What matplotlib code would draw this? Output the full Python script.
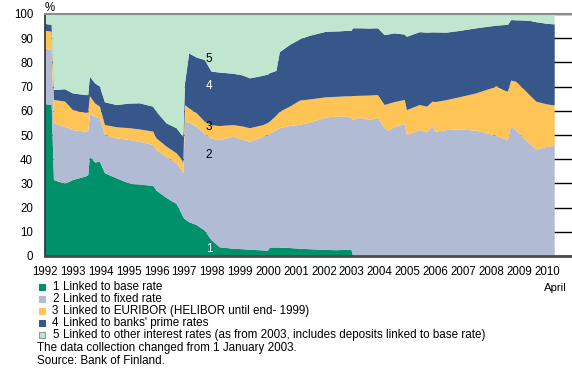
import matplotlib

matplotlib.use("Agg")
import matplotlib.pyplot as plt
from matplotlib.patches import Rectangle

plt.rcParams["font.family"] = ["Liberation Sans", "DejaVu Sans"]

# month positions as decimal years, Jan 1992 .. April 2010
dates = [
    1992.00, 1992.24, 1992.32, 1992.72, 1993.00, 1993.45, 1993.55, 1993.61,
    1993.80, 1993.97, 1994.15, 1994.57, 1995.05, 1995.40, 1995.88, 1996.00,
    1996.36, 1996.72, 1996.90, 1996.96, 1997.02, 1997.17, 1997.44, 1997.73,
    1997.97, 1998.27, 1998.75, 1999.10, 1999.35, 1999.83, 2000.00, 2000.06,
    2000.30, 2000.42, 2000.78, 2001.14, 2001.50, 2002.10, 2002.50, 2002.80,
    2002.99, 2003.05, 2003.29, 2003.65, 2003.94, 2004.18, 2004.30, 2004.54,
    2004.90, 2004.98, 2005.44, 2005.70, 2005.90, 2006.00, 2006.40, 2006.87,
    2007.47, 2008.07, 2008.19, 2008.43, 2008.60, 2008.72, 2008.90, 2009.14,
    2009.38, 2009.62, 2009.98, 2010.28,
]
# shares of deposits, %
base_rate = [
    62.8, 62.4, 31.4, 29.8, 31.4, 32.8, 33.4, 41.0,
    38.6, 39.0, 34.2, 32.1, 29.8, 29.5, 29.0, 27.0,
    24.0, 21.5, 17.5, 16.0, 15.2, 14.0, 12.8, 10.5,
    6.6, 3.6, 3.0, 2.8, 2.6, 2.3, 2.2, 3.5,
    3.5, 3.5, 3.3, 3.0, 2.8, 2.5, 2.4, 2.6,
    2.5, 0, 0, 0, 0, 0, 0, 0,
    0, 0, 0, 0, 0, 0, 0, 0,
    0, 0, 0, 0, 0, 0, 0, 0,
    0, 0, 0, 0,
]
fixed_rate = [
    23.0, 22.7, 23.4, 23.6, 20.6, 18.6, 18.1, 17.7,
    18.9, 17.9, 15.8, 16.5, 18.1, 17.7, 16.9, 16.8,
    17.0, 16.8, 18.0, 18.2, 40.3, 41.0, 40.6, 40.0,
    41.9, 44.3, 46.3, 45.2, 44.6, 47.0, 47.8, 47.0,
    48.5, 49.3, 50.4, 51.2, 52.3, 54.8, 55.2, 55.0,
    54.5, 56.2, 57.2, 56.2, 57.0, 52.8, 51.8, 53.3,
    54.5, 50.0, 52.0, 51.1, 53.7, 51.4, 52.0, 52.3,
    51.8, 50.0, 49.5, 48.6, 47.9, 53.7, 52.0, 49.0,
    46.5, 44.0, 45.0, 45.6,
]
euribor = [
    7.3, 7.6, 9.7, 10.4, 8.3, 7.8, 7.8, 7.4,
    5.5, 4.8, 4.1, 4.6, 4.9, 5.1, 5.5, 4.8,
    4.2, 4.1, 4.5, 4.3, 6.9, 6.0, 5.6, 5.0,
    5.5, 5.8, 4.8, 5.5, 5.6, 4.8, 5.0, 5.0,
    6.0, 6.8, 8.0, 10.0, 9.6, 8.3, 8.2, 8.4,
    9.0, 9.9, 9.0, 10.1, 9.5, 9.6, 11.0, 10.3,
    10.0, 10.3, 10.4, 10.6, 10.1, 12.2, 12.4, 13.3,
    15.4, 19.5, 20.7, 20.0, 20.0, 18.8, 20.0, 20.3,
    20.0, 19.8, 17.7, 16.6,
]
prime_rate = [
    2.8, 2.8, 4.1, 5.1, 6.9, 7.3, 7.2, 8.0,
    8.3, 8.3, 9.4, 9.2, 10.2, 10.8, 10.3, 11.0,
    9.6, 10.4, 10.0, 10.8, 8.9, 22.7, 23.0, 25.5,
    22.2, 22.1, 21.2, 21.1, 20.6, 20.4, 20.0, 20.0,
    18.5, 24.6, 25.5, 25.3, 26.3, 27.1, 27.0, 27.0,
    27.0, 28.0, 27.9, 27.7, 27.6, 28.9, 28.7, 28.4,
    27.0, 30.3, 30.1, 30.6, 28.6, 28.8, 27.9, 27.4,
    26.9, 25.5, 25.0, 26.8, 27.6, 25.0, 25.4, 28.0,
    30.7, 32.8, 33.3, 33.5,
]
other_rates = [
    4.1, 4.5, 31.4, 31.1, 32.8, 33.5, 33.5, 25.9,
    28.7, 30.0, 36.5, 37.6, 37.0, 36.9, 38.3, 40.4,
    45.2, 47.2, 50.0, 50.7, 28.7, 16.3, 18.0, 19.0,
    23.8, 24.2, 24.7, 25.4, 26.6, 25.5, 25.0, 24.5,
    23.5, 15.8, 12.8, 10.5, 9.0, 7.3, 7.2, 7.0,
    7.0, 5.9, 5.9, 6.0, 5.9, 8.7, 8.5, 8.0,
    8.5, 9.4, 7.5, 7.7, 7.6, 7.6, 7.7, 7.0,
    5.9, 5.0, 4.8, 4.6, 4.5, 2.5, 2.6, 2.7,
    2.8, 3.4, 4.0, 4.3,
]

years = list(range(1992, 2011))
y_ticks = list(range(0, 101, 10))
legend_numbers = ["1", "2", "3", "4", "5"]
legend_labels = [
    "Linked to base rate",
    "Linked to fixed rate",
    "Linked to EURIBOR (HELIBOR until end- 1999)",
    "Linked to banks' prime rates",
    "Linked to other interest rates (as from 2003, includes deposits linked to base rate)",
]
colors = ["#00906a", "#b1bbd4", "#fec456", "#37578a", "#c1e6cf"]

W, H = 572, 370
fig = plt.figure(figsize=(W / 100, H / 100), dpi=100)
ax = fig.add_axes([45 / W, 1 - 256 / H, 527 / W, 242 / H])

ax.stackplot(dates, base_rate, fixed_rate, euribor, prime_rate, other_rates,
             colors=colors, linewidth=0, zorder=2)
ax.set_xlim(1992, 2010.9)
ax.set_ylim(0, 100)
ax.set_yticks(y_ticks)
ax.set_xticks(years)
ax.set_xticklabels([str(y) for y in years])
ax.yaxis.grid(True, color="black", lw=1, zorder=1)
ax.set_axisbelow(True)
ax.tick_params(axis="both", length=0, labelsize=8.3, colors="black")
ax.tick_params(axis="x", pad=7.5)
ax.tick_params(axis="y", pad=8.5)

ax.spines["right"].set_visible(False)
ax.spines["top"].set_color("#8c8c8c")
ax.spines["top"].set_linewidth(1.5)
ax.spines["left"].set_color("#3a3a3a")
ax.spines["left"].set_linewidth(1.3)
ax.spines["bottom"].set_color("#4a4a4a")
ax.spines["bottom"].set_linewidth(2)
for s in ax.spines.values():
    s.set_zorder(5)

# numbers inside the areas
ax.text(1997.88, 81.4, "5", color="black", fontsize=8.5, ha="center", va="center", zorder=6)
ax.text(1997.88, 70.2, "4", color="white", fontsize=8.5, ha="center", va="center", zorder=6)
ax.text(1997.88, 53.4, "3", color="black", fontsize=8.5, ha="center", va="center", zorder=6)
ax.text(1997.88, 41.7, "2", color="black", fontsize=8.5, ha="center", va="center", zorder=6)
ax.text(1997.88, 2.9, "1", color="white", fontsize=8.5, ha="center", va="center", zorder=6)

fig.text(45 / W, 1 - 8 / H, "%", fontsize=8.3, ha="left", va="center")
fig.text(567 / W, 1 - 288 / H, "April", fontsize=8.2, ha="right", va="center")

# legend drawn by hand
LEG_FS = 8.4
rows_y = [287, 299, 311, 323, 335]
for i, (num, lab) in enumerate(zip(legend_numbers, legend_labels)):
    yc = rows_y[i]
    ec = "#8a9a9a" if i == 4 else colors[i]
    fig.patches.append(Rectangle((39 / W, 1 - (yc + 3) / H), 6 / W, 6 / H,
                                 transform=fig.transFigure, facecolor=colors[i],
                                 edgecolor=ec, lw=0.8))
    fig.text(52 / W, 1 - yc / H, num, fontsize=LEG_FS, ha="left", va="center")
    fig.text(63 / W, 1 - yc / H, lab, fontsize=LEG_FS, ha="left", va="center")
fig.text(37 / W, 1 - 347.5 / H, "The data collection changed from 1 January 2003.",
         fontsize=LEG_FS, ha="left", va="center")
fig.text(37 / W, 1 - 360.5 / H, "Source: Bank of Finland.", fontsize=LEG_FS,
         ha="left", va="center")

fig.savefig("out.png", dpi=100)
